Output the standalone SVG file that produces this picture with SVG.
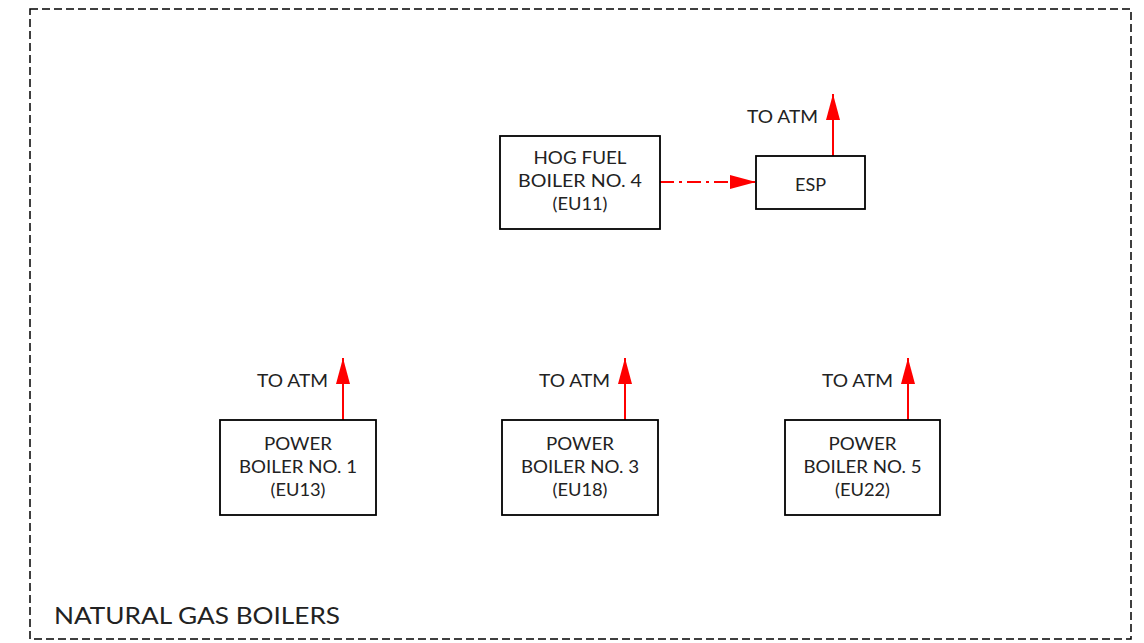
<svg xmlns="http://www.w3.org/2000/svg" width="1144" height="643" viewBox="0 0 1144 643">
<style>
.box{fill:#fff;stroke:#000;stroke-width:1.8}
.t{font-family:"Century Gothic","URW Gothic","Lato","Liberation Sans",sans-serif;font-size:18px;fill:#222;text-anchor:middle}
.lbl{font-family:"Century Gothic","URW Gothic","Lato","Liberation Sans",sans-serif;font-size:18px;fill:#222}
.red{stroke:#f00;stroke-width:2;fill:none}
</style>
<defs>
<marker id="ah2" markerWidth="26" markerHeight="14" refX="26" refY="7" orient="auto" markerUnits="userSpaceOnUse">
<path d="M0,0 L26,7 L0,14 Z" fill="#f00"/>
</marker>
</defs>
<rect x="30" y="9" width="1101" height="630" fill="none" stroke="#000" stroke-width="1.5" stroke-dasharray="8,4"/>
<text x="54" y="624" class="lbl" style="font-size:24px" textLength="286" lengthAdjust="spacingAndGlyphs">NATURAL GAS BOILERS</text>
<g id="connectors">
<line class="red" x1="660" y1="182" x2="756" y2="182" stroke-dasharray="14,5,3,5" marker-end="url(#ah2)"/>
<line class="red" x1="833" y1="156" x2="833" y2="94" marker-end="url(#ah2)"/>
<line class="red" x1="343" y1="420" x2="343" y2="358" marker-end="url(#ah2)"/>
<line class="red" x1="625" y1="420" x2="625" y2="358" marker-end="url(#ah2)"/>
<line class="red" x1="908" y1="420" x2="908" y2="358" marker-end="url(#ah2)"/>
</g>
<g id="hog">
<rect class="box" x="500" y="136" width="160" height="93"/>
<text class="t" x="580" y="164" textLength="93" lengthAdjust="spacingAndGlyphs">HOG FUEL</text>
<text class="t" x="580" y="187" textLength="124" lengthAdjust="spacingAndGlyphs">BOILER NO. 4</text>
<text class="t" x="580" y="210" textLength="55" lengthAdjust="spacingAndGlyphs">(EU11)</text>
</g>
<g id="esp">
<rect class="box" x="756" y="156" width="109" height="53"/>
<text class="t" x="810.5" y="190.5" textLength="31" lengthAdjust="spacingAndGlyphs">ESP</text>
</g>
<text class="lbl" x="747" y="123" textLength="71" lengthAdjust="spacingAndGlyphs">TO ATM</text>
<g id="pb1">
<rect class="box" x="220" y="420" width="156" height="95"/>
<text class="t" x="298" y="450" textLength="68" lengthAdjust="spacingAndGlyphs">POWER</text>
<text class="t" x="298" y="473" textLength="118" lengthAdjust="spacingAndGlyphs">BOILER NO. 1</text>
<text class="t" x="298" y="496" textLength="55" lengthAdjust="spacingAndGlyphs">(EU13)</text>
</g>
<text class="lbl" x="257" y="387" textLength="71" lengthAdjust="spacingAndGlyphs">TO ATM</text>
<g id="pb3">
<rect class="box" x="502" y="420" width="156" height="95"/>
<text class="t" x="580" y="450" textLength="68" lengthAdjust="spacingAndGlyphs">POWER</text>
<text class="t" x="580" y="473" textLength="118" lengthAdjust="spacingAndGlyphs">BOILER NO. 3</text>
<text class="t" x="580" y="496" textLength="55" lengthAdjust="spacingAndGlyphs">(EU18)</text>
</g>
<text class="lbl" x="539" y="387" textLength="71" lengthAdjust="spacingAndGlyphs">TO ATM</text>
<g id="pb5">
<rect class="box" x="785" y="420" width="155" height="95"/>
<text class="t" x="862.5" y="450" textLength="68" lengthAdjust="spacingAndGlyphs">POWER</text>
<text class="t" x="862.5" y="473" textLength="118" lengthAdjust="spacingAndGlyphs">BOILER NO. 5</text>
<text class="t" x="862.5" y="496" textLength="55" lengthAdjust="spacingAndGlyphs">(EU22)</text>
</g>
<text class="lbl" x="822" y="387" textLength="71" lengthAdjust="spacingAndGlyphs">TO ATM</text>
</svg>
